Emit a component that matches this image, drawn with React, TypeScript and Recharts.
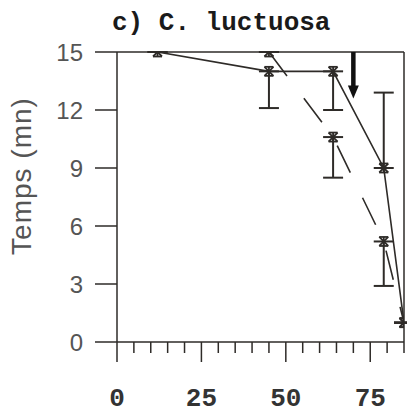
import React from "react";
import {
  ComposedChart,
  Line,
  XAxis,
  YAxis,
  ErrorBar,
  ReferenceLine,
  Scatter,
} from "recharts";

// ---- data ----
const solidX = [12, 45, 64, 79, 85];
const solidY = [15, 14, 14, 9, 1];
const solidErr: [number, number][] = [[0, 0], [1.9, 0], [2, 0], [0, 3.9], [0, 0]];

const dashedX = [45, 64, 79, 85];
const dashedY = [15, 10.6, 5.2, 1];
const dashedErr: [number, number][] = [[0, 0], [2.1, 0], [2.3, 0], [0, 0]];

const arrowX = 70;
const arrowTop = 15;
const arrowShaftEnd = 13.2;
const arrowTip = 12.6;

const xTicks = [0, 5, 10, 15, 20, 25, 30, 35, 40, 45, 50, 55, 60, 65, 70, 75, 80, 85];
const xMajor = [0, 25, 50, 75];
const yTicks = [0, 3, 6, 9, 12, 15];

const titleText = "c) C. luctuosa";
const yLabelText = "Temps (mn)";

const solidData = solidX.map((x, i) => ({ x, y: solidY[i], err: solidErr[i] }));
const dashedData = dashedX.map((x, i) => ({ x, y: dashedY[i], err: dashedErr[i] }));
const arrowHead = [{ x: arrowX, y: arrowTip }];

const INK = "#2e2b28";

const Star = (props: any) => {
  const { cx, cy } = props;
  if (cx == null || cy == null) return null;
  const r = 4.5;
  return (
    <g key={props.key}>
      <line x1={cx - r} y1={cy - r} x2={cx + r} y2={cy + r} stroke={INK} strokeWidth={1.8} />
      <line x1={cx - r} y1={cy + r} x2={cx + r} y2={cy - r} stroke={INK} strokeWidth={1.8} />
      <line x1={cx - r} y1={cy - r} x2={cx + r} y2={cy - r} stroke={INK} strokeWidth={1.8} />
      <line x1={cx - r} y1={cy + r} x2={cx + r} y2={cy + r} stroke={INK} strokeWidth={1.8} />
      <line x1={cx} y1={cy - r} x2={cx} y2={cy + r} stroke={INK} strokeWidth={1.8} />
    </g>
  );
};

const ArrowHeadShape = (props: any) => {
  const { cx, cy } = props;
  if (cx == null || cy == null) return null;
  return <polygon points={`${cx - 5.5},${cy - 13} ${cx + 5.5},${cy - 13} ${cx},${cy}`} fill="#111" />;
};

const XTick = (props: any) => {
  const { x, y, payload } = props;
  const major = xMajor.includes(payload.value);
  return (
    <g>
      <line x1={x} x2={x} y1={y} y2={y + (major ? 20 : 11)} stroke={INK} strokeWidth={1.5} />
      {major && (
        <text
          x={x}
          y={y + 64}
          textAnchor="middle"
          fontFamily="'Liberation Mono', monospace"
          fontWeight="bold"
          fontSize={26}
          fill="#333"
        >
          {payload.value}
        </text>
      )}
    </g>
  );
};

export default function App() {
  return (
    <div style={{ position: "absolute", left: 0, top: 0, width: 407, height: 414, background: "#fff" }}>
      <ComposedChart width={407} height={414} margin={{ top: 52, right: 3, bottom: 22, left: 57 }}>
        <XAxis
          dataKey="x"
          type="number"
          domain={[0, 85]}
          ticks={xTicks}
          interval={0}
          tickSize={0}
          tickMargin={0}
          tickLine={false}
          tick={<XTick />}
          height={50}
          axisLine={{ stroke: INK, strokeWidth: 1.5 }}
          allowDataOverflow
        />
        <YAxis
          type="number"
          domain={[0, 15]}
          ticks={yTicks}
          interval={0}
          width={60}
          tickSize={22}
          tickMargin={12}
          tickLine={{ stroke: INK, strokeWidth: 1.5 }}
          axisLine={{ stroke: INK, strokeWidth: 1.5 }}
          tick={{ fill: "#555", fontSize: 24, fontFamily: "'Liberation Sans', Arial, sans-serif" }}
          allowDataOverflow
        />
        <ReferenceLine y={15} stroke={INK} strokeWidth={1.5} />
        <ReferenceLine x={85} stroke={INK} strokeWidth={1.5} />
        <ReferenceLine
          segment={[
            { x: arrowX, y: arrowTop },
            { x: arrowX, y: arrowShaftEnd },
          ]}
          stroke="#111"
          strokeWidth={4.5}
        />
        <Line
          data={dashedData}
          dataKey="y"
          stroke={INK}
          strokeWidth={1.6}
          strokeDasharray="30 28"
          dot={(p: any) => <Star {...p} key={`d-${p.index}`} />}
          isAnimationActive={false}
        >
          <ErrorBar dataKey="err" direction="y" stroke={INK} strokeWidth={2} width={10} />
        </Line>
        <Line
          data={solidData}
          dataKey="y"
          stroke={INK}
          strokeWidth={1.6}
          dot={(p: any) => <Star {...p} key={`s-${p.index}`} />}
          isAnimationActive={false}
        >
          <ErrorBar dataKey="err" direction="y" stroke={INK} strokeWidth={2} width={10} />
        </Line>
        <Scatter data={arrowHead} dataKey="y" shape={<ArrowHeadShape />} isAnimationActive={false} />
      </ComposedChart>
      <svg
        width={407}
        height={414}
        style={{ position: "absolute", left: 0, top: 0, pointerEvents: "none" }}
      >
        <text
          x={112}
          y={30}
          fontFamily="'Liberation Mono', monospace"
          fontWeight="bold"
          fontSize={26}
          fill="#1a1a1a"
        >
          {titleText}
        </text>
        <text
          x={21}
          y={176}
          transform="rotate(-90 21 176)"
          textAnchor="middle"
          dominantBaseline="central"
          fontFamily="'Liberation Sans', Arial, sans-serif"
          fontSize={28}
          letterSpacing={1}
          fill="#555"
        >
          {yLabelText}
        </text>
      </svg>
    </div>
  );
}
